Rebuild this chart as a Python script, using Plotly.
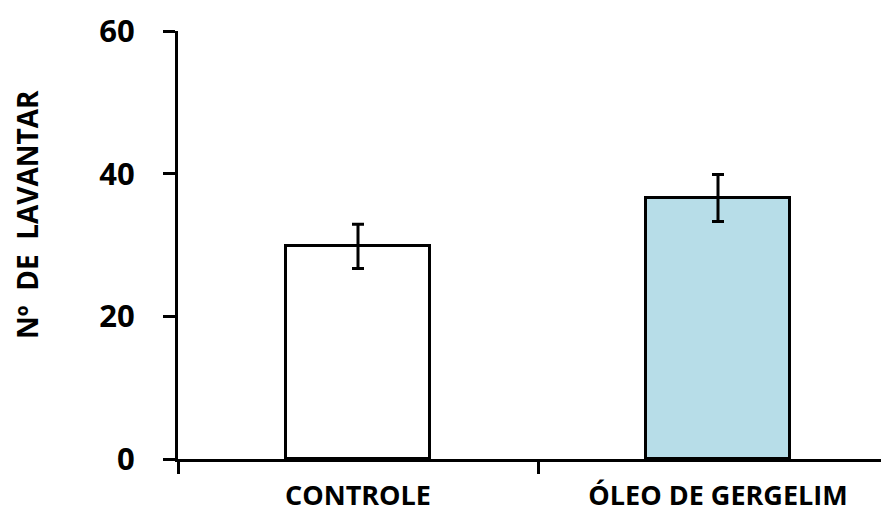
import plotly.graph_objects as go

categories = ["CONTROLE", "ÓLEO DE GERGELIM"]
values = [29.8, 36.6]
errors = [3.1, 3.3]
colors = ["#FFFFFF", "#B7DDE8"]
y_ticks = [0, 20, 40, 60]
y_title = "Nº  DE  LAVANTAR"

fig = go.Figure()
fig.add_trace(go.Bar(
    x=categories, y=values, width=0.4,
    marker=dict(color=colors, line=dict(color="black", width=3)),
    error_y=dict(type="data", array=errors, visible=True, color="black", thickness=3, width=6),
))

font = "Open Sans"
fig.update_layout(
    width=881, height=507,
    margin=dict(l=170, r=0, t=23, b=56, autoexpand=False),
    plot_bgcolor="white", paper_bgcolor="white",
    showlegend=False,
    bargap=0,
    xaxis=dict(
        range=[-0.5, 1.475], showline=True, linecolor="black", linewidth=3,
        ticks="outside", tickson="boundaries", ticklen=12, tickwidth=3, tickcolor="black",
        tickfont=dict(family=font, size=27, color="black", weight="bold"),
        ticklabelstandoff=11, showgrid=False, zeroline=False, automargin=False,
    ),
    yaxis=dict(
        range=[0, 60], tickvals=y_ticks, showline=True, linecolor="black", linewidth=3,
        ticks="outside", ticklen=12, tickwidth=3, tickcolor="black",
        tickfont=dict(family=font, size=31, color="black", weight="bold"),
        ticklabelstandoff=22, showgrid=False, zeroline=False, automargin=False,
    ),
    annotations=[dict(
        text=y_title, xref="paper", yref="paper",
        x=(19 - 170) / 711, y=(451 - 207) / 428, xanchor="center", yanchor="middle",
        textangle=-90, showarrow=False,
        font=dict(family=font, size=28, color="black", weight="bold"),
    )],
)
fig.write_html("out.html")
